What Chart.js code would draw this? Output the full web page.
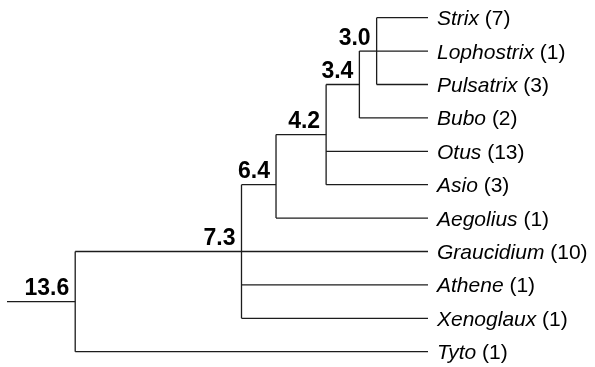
<!DOCTYPE html>
<html>
<head>
<meta charset="utf-8">
<script src="https://cdn.jsdelivr.net/npm/chart.js@4/dist/chart.umd.min.js"></script>
<style>
  html, body { margin: 0; padding: 0; background: #fff; }
  #wrap { width: 595px; height: 367px; position: relative; }
</style>
</head>
<body>
<div id="wrap"><canvas id="c"></canvas></div>
<script>
// ---- Data ----
// Leaves (genera), top to bottom, with species counts
const leafNames  = ['Strix','Lophostrix','Pulsatrix','Bubo','Otus','Asio','Aegolius','Graucidium','Athene','Xenoglaux','Tyto'];
const leafCounts = [7, 1, 3, 2, 13, 3, 1, 10, 1, 1, 1];
// Internal nodes (divergence values as printed)
const nodeValues = [13.6, 7.3, 6.4, 4.2, 3.4, 3.0];
// Layout column of each node along the tree (0 = root stem start, 100 = tips), as drawn
const nodeColumn = [16.2, 55.7, 63.9, 75.8, 83.7, 87.8];
// Row at which each node joins its parent (leaf rows are 0..10)
const nodeRow    = [8.5, 7, 5, 3.5, 2, 1];
// Children of each node: 'L#' = leaf index, 'N#' = node index
const nodeChildren = [
  ['N1','L10'],
  ['N2','L7','L8','L9'],
  ['N3','L6'],
  ['N4','L4','L5'],
  ['N5','L3'],
  ['L0','L1','L2']
];
const rootStemStart = 0;
const tipColumn = 100;

// ---- Build segments from the tree ----
const LINE = '#1c1c1c';
function childPos(ref) {
  const i = +ref.slice(1);
  return ref[0] === 'L' ? {x: tipColumn, y: i} : {x: nodeColumn[i], y: nodeRow[i]};
}
const segments = [];
// root stem
segments.push([{x: rootStemStart, y: nodeRow[0]}, {x: nodeColumn[0], y: nodeRow[0]}]);
nodeChildren.forEach((kids, n) => {
  const ys = kids.map(k => childPos(k).y);
  segments.push([{x: nodeColumn[n], y: Math.min(...ys)}, {x: nodeColumn[n], y: Math.max(...ys)}]);
  kids.forEach(k => {
    const p = childPos(k);
    segments.push([{x: nodeColumn[n], y: p.y}, {x: p.x, y: p.y}]);
  });
});

const datasets = segments.map(seg => ({
  data: seg,
  showLine: true,
  borderColor: LINE,
  borderWidth: 1.3,
  pointRadius: 0,
  pointHoverRadius: 0,
  fill: false,
  clip: false
}));

const labelPlugin = {
  id: 'treeLabels',
  afterDatasetsDraw(chart) {
    const ctx = chart.ctx;
    const xs = chart.scales.x, ys = chart.scales.y;
    ctx.save();
    ctx.fillStyle = '#000';
    // leaf labels
    ctx.textBaseline = 'alphabetic';
    ctx.textAlign = 'left';
    leafNames.forEach((name, i) => {
      const px = xs.getPixelForValue(tipColumn) + 9;
      const py = ys.getPixelForValue(i) + 7.5;
      ctx.font = 'italic 21px "Liberation Sans", Arial, sans-serif';
      ctx.fillText(name, px, py);
      const w = ctx.measureText(name).width;
      ctx.font = '21px "Liberation Sans", Arial, sans-serif';
      ctx.fillText(' (' + leafCounts[i] + ')', px + w, py);
    });
    // node value labels
    ctx.font = 'bold 23px "Liberation Sans", Arial, sans-serif';
    ctx.textAlign = 'right';
    nodeValues.forEach((v, n) => {
      const px = xs.getPixelForValue(nodeColumn[n]) - 6;
      const py = ys.getPixelForValue(nodeRow[n]) - 6.5;
      ctx.fillText(v.toFixed(1), px, py);
    });
    ctx.restore();
  }
};

new Chart(document.getElementById('c'), {
  type: 'scatter',
  data: { datasets },
  options: {
    responsive: true,
    maintainAspectRatio: false,
    animation: false,
    events: [],
    layout: { padding: { left: 7, right: 167, top: 17.7, bottom: 15.3 } },
    plugins: { legend: { display: false }, tooltip: { enabled: false } },
    scales: {
      x: { type: 'linear', min: 0, max: 100, display: false },
      y: { type: 'linear', min: 0, max: 10, reverse: true, display: false }
    }
  },
  plugins: [labelPlugin]
});
</script>
</body>
</html>
